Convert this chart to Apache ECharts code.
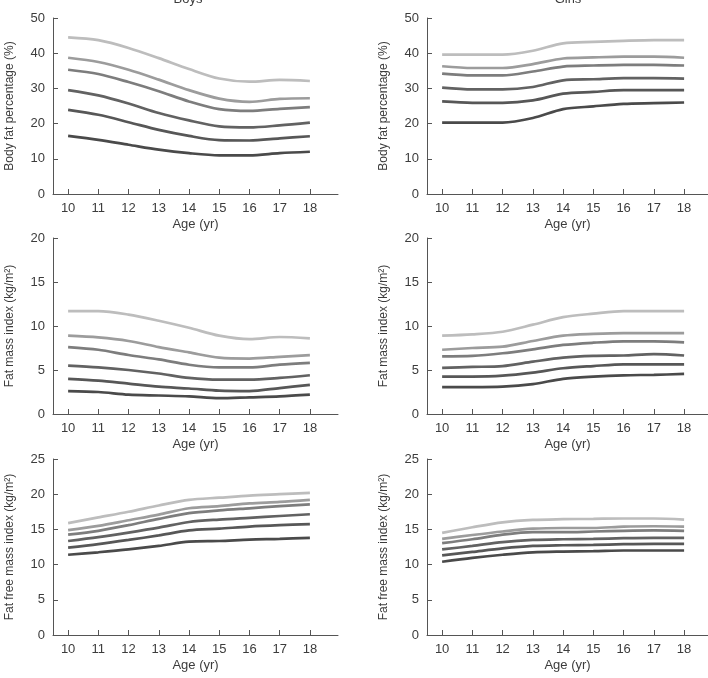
<!DOCTYPE html>
<html><head><meta charset="utf-8">
<script src="https://cdn.jsdelivr.net/npm/echarts@6/dist/echarts.min.js"></script>
<style>html,body{margin:0;padding:0;background:#fff}#c{width:708px;height:678px}</style>
</head><body><div id="c"></div>
<script>
const ages = [10, 11, 12, 13, 14, 15, 16, 17, 18];
const tickAges = [10, 11, 12, 13, 14, 15, 16, 17, 18];

// Boys body fat percentage (top line first)
const boysBF = [
  [44.5, 43.7, 41.5, 38.6, 35.5, 32.8, 31.9, 32.4, 32.1],
  [38.7, 37.5, 35.3, 32.5, 29.5, 27.1, 26.2, 27.0, 27.2],
  [35.3, 34.1, 31.8, 29.2, 26.3, 24.1, 23.6, 24.2, 24.7],
  [29.5, 28.0, 25.7, 23.0, 20.9, 19.2, 18.9, 19.5, 20.3],
  [23.9, 22.5, 20.4, 18.2, 16.5, 15.3, 15.2, 15.8, 16.4],
  [16.5, 15.4, 14.0, 12.6, 11.6, 11.0, 11.0, 11.6, 12.0]
];
// Girls body fat percentage
const girlsBF = [
  [39.6, 39.6, 39.6, 40.7, 42.8, 43.2, 43.5, 43.7, 43.7],
  [36.3, 35.8, 35.8, 36.9, 38.5, 38.8, 39.0, 39.0, 38.7],
  [34.2, 33.7, 33.7, 34.8, 36.2, 36.5, 36.7, 36.7, 36.5],
  [30.2, 29.7, 29.7, 30.4, 32.3, 32.6, 32.9, 32.9, 32.8],
  [26.3, 25.9, 25.9, 26.6, 28.5, 29.0, 29.5, 29.5, 29.5],
  [20.3, 20.3, 20.3, 21.6, 24.1, 24.9, 25.6, 25.8, 26.0]
];
// Boys fat mass index
const boysFMI = [
  [11.7, 11.7, 11.3, 10.6, 9.8, 8.9, 8.5, 8.75, 8.6],
  [8.9, 8.7, 8.3, 7.6, 7.0, 6.4, 6.3, 6.5, 6.7],
  [7.6, 7.3, 6.7, 6.2, 5.6, 5.3, 5.3, 5.6, 5.8],
  [5.5, 5.3, 5.0, 4.6, 4.1, 3.9, 3.9, 4.1, 4.4],
  [4.0, 3.8, 3.45, 3.1, 2.9, 2.65, 2.6, 2.95, 3.3],
  [2.6, 2.5, 2.2, 2.1, 2.0, 1.8, 1.9, 2.0, 2.2]
];
// Girls fat mass index
const girlsFMI = [
  [8.9, 9.05, 9.35, 10.15, 11.0, 11.4, 11.7, 11.7, 11.7],
  [7.3, 7.5, 7.65, 8.3, 8.9, 9.1, 9.2, 9.2, 9.2],
  [6.55, 6.6, 6.9, 7.35, 7.85, 8.1, 8.25, 8.25, 8.15],
  [5.25, 5.35, 5.45, 5.95, 6.4, 6.6, 6.65, 6.8, 6.65],
  [4.25, 4.25, 4.35, 4.7, 5.2, 5.45, 5.65, 5.65, 5.65],
  [3.05, 3.05, 3.1, 3.4, 4.0, 4.25, 4.4, 4.45, 4.55]
];
// Boys fat free mass index
const boysFFMI = [
  [15.9, 16.7, 17.5, 18.4, 19.2, 19.5, 19.8, 20.0, 20.2],
  [14.9, 15.5, 16.3, 17.1, 18.0, 18.3, 18.7, 18.9, 19.2],
  [14.25, 14.8, 15.6, 16.5, 17.3, 17.7, 18.0, 18.3, 18.55],
  [13.35, 13.9, 14.55, 15.25, 16.05, 16.4, 16.65, 16.9, 17.15],
  [12.4, 12.9, 13.5, 14.15, 14.85, 15.1, 15.4, 15.6, 15.75],
  [11.4, 11.75, 12.15, 12.65, 13.25, 13.35, 13.55, 13.65, 13.8]
];
// Girls fat free mass index
const girlsFFMI = [
  [14.5, 15.3, 16.0, 16.35, 16.45, 16.5, 16.55, 16.55, 16.4],
  [13.65, 14.2, 14.7, 15.1, 15.2, 15.2, 15.4, 15.45, 15.4],
  [13.05, 13.6, 14.25, 14.6, 14.6, 14.7, 14.8, 14.85, 14.8],
  [12.15, 12.65, 13.2, 13.5, 13.6, 13.65, 13.75, 13.8, 13.8],
  [11.3, 11.8, 12.3, 12.65, 12.75, 12.8, 12.9, 12.95, 12.95],
  [10.4, 10.95, 11.4, 11.75, 11.85, 11.9, 12.0, 12.0, 12.0]
];

const titles = ['Boys', 'Girls'];
const yNames = ['Body fat percentage (%)', 'Fat mass index (kg/m\u00b2)', 'Fat free mass index (kg/m\u00b2)'];
const xName = 'Age (yr)';
const yMax = [50, 20, 25];
const yInterval = [10, 5, 5];

const panels = [
  [boysBF, girlsBF],
  [boysFMI, girlsFMI],
  [boysFFMI, girlsFFMI]
];
const lineColors = ['#bdbdbd', '#9c9c9c', '#7d7d7d', '#626262', '#575757', '#4a4a4a'];

const FONT = "'Liberation Sans Narrow', 'Liberation Sans', Arial, sans-serif";
const TXT = '#3c3c3c';
const AX = '#555';

const gridTops = [18, 238, 459];
const gridH = 176;
const gridLefts = [53, 427];
const gridW = [285, 281];
const xMaxs = [18.93, 18.79];

const grid = [], xAxis = [], yAxis = [], series = [];
let gi = 0;
for (let r = 0; r < 3; r++) {
  for (let c = 0; c < 2; c++) {
    grid.push({left: gridLefts[c], top: gridTops[r], width: gridW[c], height: gridH});
    xAxis.push({
      type: 'value', gridIndex: gi, min: 9.5, max: xMaxs[c],
      name: xName, nameLocation: 'middle', nameGap: 24,
      nameTextStyle: {color: TXT, fontFamily: FONT, fontSize: 13},
      axisLine: {show: true, lineStyle: {color: AX, width: 1}},
      axisTick: {show: true, inside: true, length: 5, customValues: tickAges, lineStyle: {color: AX}},
      axisLabel: {color: TXT, fontFamily: FONT, fontSize: 13, margin: 8, customValues: tickAges},
      splitLine: {show: false}
    });
    yAxis.push({
      type: 'value', gridIndex: gi, min: 0, max: yMax[r], interval: yInterval[r],
      name: yNames[r], nameLocation: 'middle', nameGap: 37, nameRotate: 90,
      nameTextStyle: {color: TXT, fontFamily: FONT, fontSize: 12},
      axisLine: {show: true, lineStyle: {color: AX, width: 1}},
      axisTick: {show: true, inside: true, length: 5, lineStyle: {color: AX}},
      axisLabel: {color: TXT, fontFamily: FONT, fontSize: 13, margin: 8},
      splitLine: {show: false}
    });
    const data = panels[r][c];
    data.forEach((vals, k) => {
      series.push({
        type: 'line', xAxisIndex: gi, yAxisIndex: gi,
        data: ages.map((a, i) => [a, vals[i]]),
        smooth: 0.3, showSymbol: false, symbol: 'none',
        lineStyle: {color: lineColors[k], width: 2.7},
        z: 2 + (5 - k), silent: true
      });
    });
    gi++;
  }
}

const chart = echarts.init(document.getElementById('c'), null, {renderer: 'canvas'});
chart.setOption({
  animation: false,
  backgroundColor: '#fff',
  title: titles.map((t, i) => ({
    text: t, left: [183, 563][i], top: -12, textAlign: 'center',
    textStyle: {color: TXT, fontFamily: FONT, fontSize: 13, fontWeight: 'normal'}
  })),
  grid, xAxis, yAxis, series
});
</script></body></html>
